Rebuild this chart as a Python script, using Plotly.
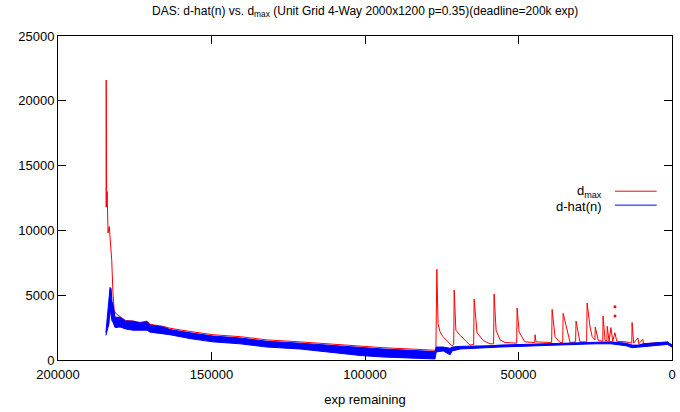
import plotly.graph_objects as go

# d_max (red), x = exp remaining
dmax_x = [184350, 184300, 184250, 184150, 184000, 183850, 183700, 183300, 183100, 182500,
          182100, 181700, 181000, 179800, 178000, 175500, 173300, 171000, 170000, 165800,
          163500, 157000, 149500, 140700, 131900, 121200, 110400, 101600, 94100, 85300,
          77200, 76900, 76600, 76200, 75600, 74600, 72300, 71700, 71100, 70950,
          70400, 69000, 65800, 64600, 64450, 63500, 61500, 59300, 58100, 57950,
          57300, 56000, 54400, 50600, 50450, 49800, 47900, 44700, 44600, 44300,
          39200, 39050, 38100, 36500, 35600, 35450, 33200, 31400, 31250, 30000,
          27800, 27650, 26700, 26000, 25100, 25000, 24000, 22550, 22450, 21800,
          21200, 21100, 20500, 19900, 19300, 18600, 18000, 15000, 13100, 13000,
          12500, 11100, 10800, 9500, 9300, 3900, 0]
dmax_y = [11800, 21600, 18500, 11800, 13000, 10200, 9800, 10300, 9700, 7700,
          5200, 3800, 3550, 3350, 3050, 3000, 2900, 3000, 2750, 2600,
          2450, 2200, 1950, 1800, 1550, 1400, 1200, 1050, 950, 850,
          750, 850, 7000, 2800, 2200, 1800, 1300, 1100, 1200, 5400,
          2300, 1900, 1150, 1200, 4700, 2100, 1500, 1250, 1250, 5100,
          2300, 1550, 1350, 1300, 4000, 2150, 1400, 1350, 1950, 1400,
          1350, 3900, 1800, 1350, 1350, 3600, 1350, 1400, 3000, 1400,
          1400, 4400, 2550, 1800, 1550, 2550, 1500, 1450, 3400, 1500,
          1500, 2600, 1450, 2500, 1450, 2100, 1450, 1400, 1300, 2900,
          1300, 1700, 1250, 1600, 1250, 1350, 1200]

# stray d_max points
dmax_dot_x = [18570, 18570]
dmax_dot_y = [4100, 3400]

# d-hat(n) (blue) noise band: upper and lower edge
dhat_x = [184400, 184000, 183400, 183050, 182700, 182400, 182070, 181400, 179800, 178000,
          175560, 173300, 171000, 170000, 165800, 163500, 157000, 149500, 140700, 131900,
          121200, 110400, 101600, 94100, 85300, 77200, 76800, 74500, 72300, 71600,
          69000, 65800, 59300, 56000, 49800, 44600, 36500, 29900, 25000, 19900,
          15000, 13000, 11000, 9400, 3900, 1500, 0]
dhat_hi = [2100, 3300, 5000, 5600, 5500, 4500, 4300, 3300, 3300, 3000,
           3000, 2850, 2950, 2700, 2550, 2350, 2100, 1850, 1700, 1450,
           1300, 1100, 950, 850, 750, 650, 1000, 1000, 900, 1000,
           1050, 1050, 1100, 1150, 1200, 1250, 1300, 1350, 1400, 1400,
           1300, 1150, 1150, 1250, 1350, 1400, 1150]
dhat_lo = [1900, 2300, 2800, 3900, 3200, 3000, 2900, 2500, 2550, 2400,
           2300, 2300, 2300, 2150, 2050, 1950, 1650, 1400, 1250, 1000,
           850, 550, 350, 230, 150, 80, 620, 700, 400, 700,
           850, 900, 950, 1000, 1050, 1100, 1150, 1200, 1250, 1250,
           1100, 950, 1000, 1050, 1150, 1200, 1000]

x_ticks = [200000, 150000, 100000, 50000, 0]
y_ticks = [0, 5000, 10000, 15000, 20000, 25000]

fnt = "Liberation Sans, Arial, sans-serif"

fig = go.Figure()
fig.add_trace(go.Scatter(x=dmax_x, y=dmax_y, mode="lines",
                         line=dict(color="red", width=1), name="d_max"))
fig.add_trace(go.Scatter(x=dmax_dot_x, y=dmax_dot_y, mode="markers",
                         marker=dict(color="red", size=3), showlegend=False))
fig.add_trace(go.Scatter(x=dhat_x, y=dhat_lo, mode="lines",
                         line=dict(color="blue", width=1), showlegend=False))
fig.add_trace(go.Scatter(x=dhat_x, y=dhat_hi, mode="lines", fill="tonexty",
                         fillcolor="blue", line=dict(color="blue", width=1),
                         name="d-hat(n)"))

axis = dict(showgrid=False, zeroline=False, showline=True, linecolor="black",
            linewidth=1, mirror="ticks", ticks="inside", ticklen=8,
            tickcolor="black", tickfont=dict(size=13, color="black"),
            automargin=False)

fig.update_xaxes(range=[200000, 0], tickvals=x_ticks,
                 ticktext=[str(v) for v in x_ticks], ticklabelstandoff=2,
                 title=dict(text="exp remaining", font=dict(size=13), standoff=14),
                 **axis)
fig.update_yaxes(range=[0, 25000], tickvals=y_ticks,
                 ticktext=[str(v) for v in y_ticks], **axis)

# gnuplot style key: text on the left, line sample on the right
fig.add_annotation(x=0.889, y=0.521, xref="paper", yref="paper", xanchor="right",
                   yanchor="middle", showarrow=False, text="d<sub>max</sub>",
                   font=dict(size=13, color="black"))
fig.add_annotation(x=0.889, y=0.474, xref="paper", yref="paper", xanchor="right",
                   yanchor="middle", showarrow=False, text="d-hat(n)",
                   font=dict(size=13, color="black"))
fig.add_shape(type="line", xref="paper", yref="paper", x0=0.907, x1=0.975,
              y0=0.521, y1=0.521, line=dict(color="red", width=1))
fig.add_shape(type="line", xref="paper", yref="paper", x0=0.907, x1=0.975,
              y0=0.478, y1=0.478, line=dict(color="blue", width=1))

fig.update_layout(
    width=680, height=412,
    margin=dict(l=58, r=8, t=36, b=52),
    paper_bgcolor="white", plot_bgcolor="white",
    font=dict(family=fnt, size=13, color="black"),
    showlegend=False,
    title=dict(text="DAS: d-hat(n) vs. d<sub>max</sub> (Unit Grid 4-Way 2000x1200 p=0.35)(deadline=200k exp)",
               x=0.537, xanchor="center", y=0.985, yanchor="top",
               font=dict(size=12, color="black")),
)

# page body has a default 8px margin, drop it so the figure sits at 0,0
fig.write_html("out.html", config={"displayModeBar": False},
               post_script="document.body.style.margin='0';")
